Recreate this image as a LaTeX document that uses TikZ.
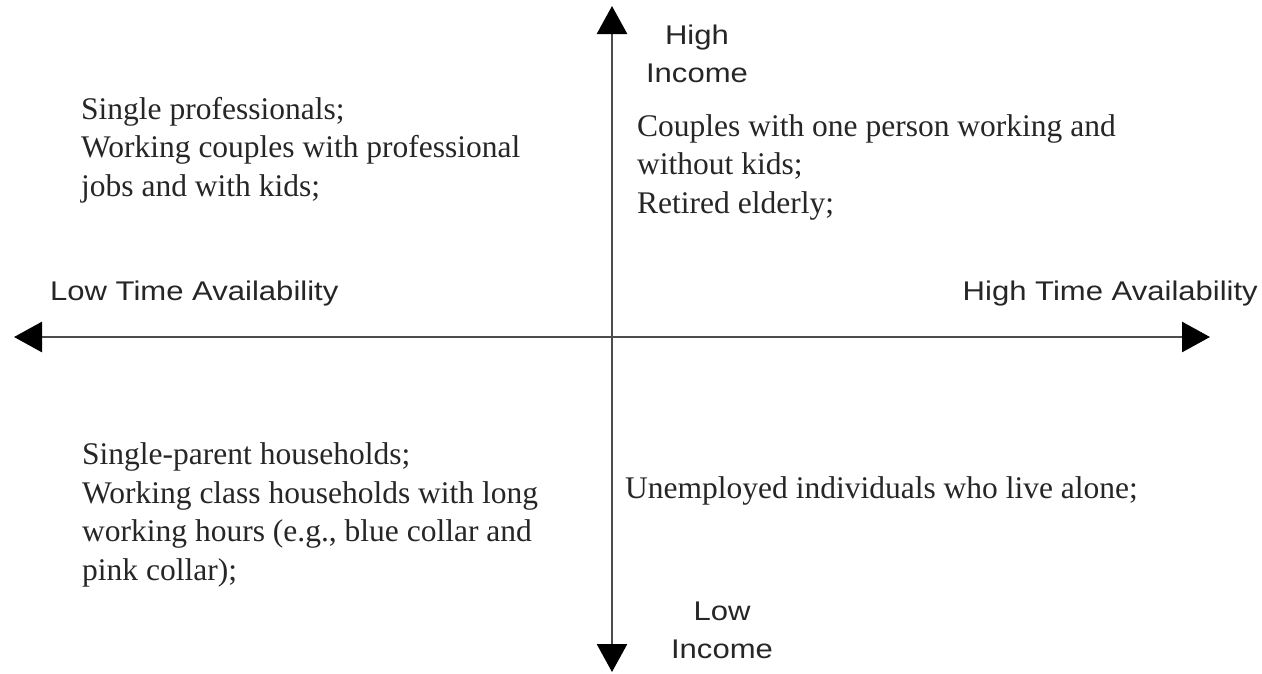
\documentclass[tikz,border=0pt]{standalone}
\usepackage{fontspec}
\setmainfont{Liberation Serif}
\newfontfamily\axisfont[FakeStretch=1.15]{Liberation Sans}
\usetikzlibrary{arrows.meta}

\begin{document}
\begin{tikzpicture}[
    x=1pt, y=-1pt,
    >={Triangle[length=28pt, width=30pt, color=black]},
    % styles for the two axes and the quadrant texts
    axis/.style={line width=2.8pt, draw=black!70, <->},
    axislabel/.style={inner sep=0pt, text=black!85, font=\axisfont\fontsize{27}{38}\selectfont, align=center, anchor=base},
    group/.style={inner sep=0pt, text=black!85, font=\fontsize{31.5}{38.5}\selectfont, align=left, anchor=base west}
  ]
  \useasboundingbox (0,0) rectangle (1262,673);

  % --- 1. AXIS ENDS ---
  \coordinate (west) at (14,337);
  \coordinate (east) at (1210,337);
  \coordinate (north) at (612,6);
  \coordinate (south) at (612,672);

  \draw[axis] (west) -- (east);
  \draw[axis] (north) -- (south);

  % --- 2. AXIS LABELS (base = last line) ---
  \node[axislabel] (highinc) at (697,82) {High\\Income};
  \node[axislabel] (lowinc) at (722,658) {Low\\Income};
  \node[axislabel, anchor=base west] (lowtime) at (50,300) {Low Time Availability};
  \node[axislabel, anchor=base east] (hightime) at (1258,300) {High Time Availability};

  % --- 3. QUADRANTS ---
  % low time, high income
  \node[group] (q1) at (81,196) {Single professionals;\\
    Working couples with professional\\
    jobs and with kids;};

  % high time, high income
  \node[group] (q2) at (637,213) {Couples with one person working and\\
    without kids;\\
    Retired elderly;};

  % low time, low income
  \node[group] (q3) at (82,580) {Single-parent households;\\
    Working class households with long\\
    working hours (e.g., blue collar and\\
    pink collar);};

  % high time, low income
  \node[group] (q4) at (625,498) {Unemployed individuals who live alone;};

\end{tikzpicture}
\end{document}
